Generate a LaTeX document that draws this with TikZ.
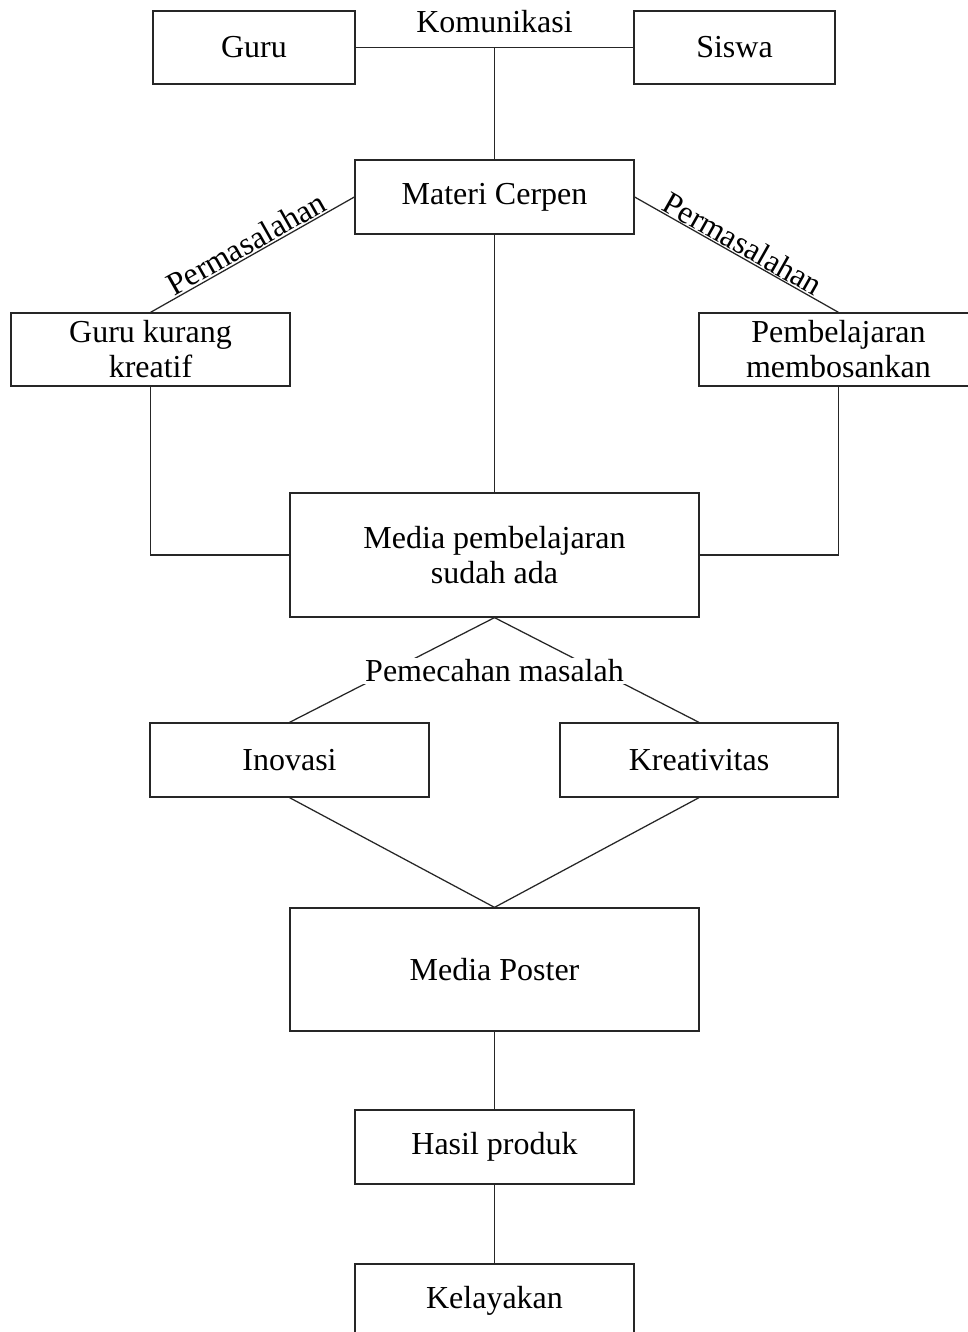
\documentclass[tikz,border=0pt]{standalone}
\usepackage{fontspec}
\setmainfont{Liberation Serif}
\begin{document}
\begin{tikzpicture}[x=1pt,y=-1pt,
  box/.style={draw=black!85, line width=1.25pt, align=center, inner sep=0pt, font=\fontsize{32}{35}\selectfont},
  conn/.style={draw=black!85, line width=1.25pt},
  lbl/.style={font=\fontsize{32}{35}\selectfont, inner sep=1pt}]
\useasboundingbox (0,0) rectangle (968,1332);
\clip (0,0) rectangle (968,1332);
\fill[white] (0,0) rectangle (968,1332);
\node[box, minimum width=202pt, minimum height=73pt] (guru) at (254,47.5) {\raisebox{-1.5pt}{Guru}};
\node[box, minimum width=201pt, minimum height=73pt] (siswa) at (734.5,47.5) {\raisebox{-1.5pt}{Siswa}};
\node[box, minimum width=279pt, minimum height=74pt] (materi) at (494.5,197) {\raisebox{-1.5pt}{Materi Cerpen}};
\node[box, minimum width=279pt, minimum height=73pt] (gkk) at (150.5,349.5) {Guru kurang\\kreatif};
\node[box, minimum width=279pt, minimum height=73pt] (pemb) at (838.5,349.5) {Pembelajaran\\membosankan};
\node[box, minimum width=409pt, minimum height=124pt] (media) at (494.5,555) {Media pembelajaran\\sudah ada};
\node[box, minimum width=279pt, minimum height=74pt] (inovasi) at (289.5,760) {\raisebox{-1.5pt}{Inovasi}};
\node[box, minimum width=278pt, minimum height=74pt] (kreat) at (699,760) {\raisebox{-1.5pt}{Kreativitas}};
\node[box, minimum width=409pt, minimum height=123pt] (poster) at (494.5,969.5) {\raisebox{-1.5pt}{Media Poster}};
\node[box, minimum width=279pt, minimum height=74pt] (hasil) at (494.5,1147) {\raisebox{-1.5pt}{Hasil produk}};
\node[box, minimum width=279pt, minimum height=74pt] (layak) at (494.5,1301) {\raisebox{-1.5pt}{Kelayakan}};
\coordinate (k) at (494.5,47.5);
\node[lbl] (kom) at (494.5,22) {Komunikasi};
\draw[conn] (guru.east) -- (siswa.west);
\draw[conn] (k) -- (materi.north);
\draw[conn] (materi.west) -- node[lbl, sloped, above] (p1) {Permasalahan} (gkk.north);
\draw[conn] (materi.east) -- node[lbl, sloped, above] (p2) {Permasalahan} (pemb.north);
\draw[conn] (materi.south) -- (media.north);
\draw[conn] (gkk.south) |- (media.west);
\draw[conn] (pemb.south) |- (media.east);
\draw[conn] (media.south) -- (inovasi.north);
\draw[conn] (media.south) -- (kreat.north);
\node[lbl, fill=white, inner sep=2pt] (pm) at (494.5,671) {Pemecahan masalah};
\draw[conn] (inovasi.south) -- (poster.north);
\draw[conn] (kreat.south) -- (poster.north);
\draw[conn] (poster.south) -- (hasil.north);
\draw[conn] (hasil.south) -- (layak.north);
\end{tikzpicture}
\end{document}
